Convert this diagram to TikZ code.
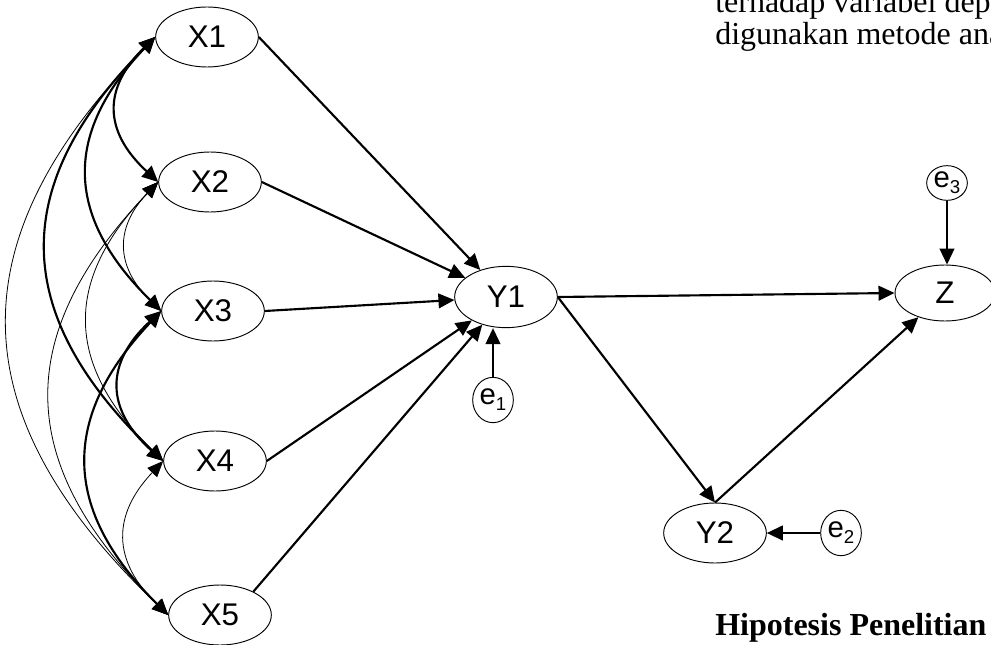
\documentclass[tikz,border=0pt]{standalone}
\usepackage{fontspec}
\setmainfont{Liberation Serif}
\newfontfamily\arialf{Liberation Sans}
\usetikzlibrary{shapes.geometric,arrows.meta}
\begin{document}
\begin{tikzpicture}[x=0.75pt,y=-0.75pt,
 var/.style={ellipse,draw,line width=0.7pt,minimum width=77pt,minimum height=45pt,inner sep=0pt,font=\arialf\fontsize{23.5}{23.5}\selectfont},
 err/.style={ellipse,draw,line width=0.7pt,minimum width=30.5pt,minimum height=34pt,inner sep=0pt,font=\arialf\fontsize{22}{22}\selectfont},
 arr/.style={line width=1.6pt,-{Triangle[length=12pt,width=11pt]}},
 thickcor/.style={line width=1.6pt,{Triangle[length=12pt,width=11pt]}-{Triangle[length=12pt,width=11pt]}},
 thincor/.style={line width=0.6pt,{Triangle[length=12pt,width=10pt]}-{Triangle[length=12pt,width=10pt]}},
 para/.style={font=\fontsize{24}{24}\selectfont,anchor=base west,inner sep=0pt}
]
\useasboundingbox (0,0) rectangle (991,645);
\clip (0,0) rectangle (991,645);

% text
\node[para] (t1) at (715,13) {terhadap variabel dep};
\node[para] (t2) at (715,45) {digunakan metode ana};
\node[para,font=\bfseries\fontsize{24}{24}\selectfont] (t3) at (715,635) {Hipotesis Penelitian};

% nodes
\node[var] (X1) at (207,37) {X1};
\node[var] (X2) at (210,182) {X2};
\node[var] (X3) at (213,311) {X3};
\node[var] (X4) at (215,461) {X4};
\node[var] (X5) at (220,615) {X5};
\node[var,minimum height=46pt] (Y1) at (506,297) {Y1};
\node[var,minimum width=75pt,minimum height=42pt] (Z) at (945,293) {Z};
\node[var] (Y2) at (715,533) {Y2};
\node[err] (e1) at (493,400) {e\raisebox{-0.2em}{\fontsize{14}{14}\selectfont 1}};
\node[err] (e2) at (841,533) {e\raisebox{-0.2em}{\fontsize{14}{14}\selectfont 2}};
\node[err,minimum height=26pt] (e3) at (947,183) {e\raisebox{-0.2em}{\fontsize{14}{14}\selectfont 3}};

% paths to Y1
\draw[arr] (X1.east) -- (Y1);
\draw[arr] (X2.east) -- (Y1);
\draw[arr] (X3.east) -- (Y1);
\draw[arr] (X4.east) -- (Y1);
\draw[arr] (X5.35) -- (Y1);

% structural paths
\draw[arr] (Y1.east) -- (Z.west);
\draw[arr] (Y1.east) -- (Y2.north);
\draw[arr] (Y2.north) -- (Z);
\draw[arr] (e1.north) -- (Y1.south -| e1.north);
\draw[arr] (e2.west) -- (Y2.east);
\draw[arr] (e3.south) -- (Z.north -| e3.south);

% correlations
\draw[thickcor] (X1.west) .. controls (103,88) and (103,131) .. (X2.west);
\draw[thickcor] (X1.west) .. controls (64,133) and (64,215) .. (X3.west);
\draw[thickcor] (X1.west) .. controls (9,185) and (9,313) .. (X4.west);
\draw[thincor] (X1.west) .. controls (-43,239) and (-43,413) .. (X5.west);
\draw[thincor] (X2.west) .. controls (115,227) and (115,266) .. (X3.west);
\draw[thincor] (X2.west) .. controls (64,280) and (64,363) .. (X4.west);
\draw[thincor] (X2.west) .. controls (13,334) and (13,463) .. (X5.west);
\draw[thickcor] (X3.west) .. controls (105,363) and (105,409) .. (X4.west);
\draw[thickcor] (X3.west) .. controls (61,417) and (61,509) .. (X5.west);
\draw[thincor] (X4.west) .. controls (112,515) and (112,561) .. (X5.west);
\end{tikzpicture}
\end{document}
